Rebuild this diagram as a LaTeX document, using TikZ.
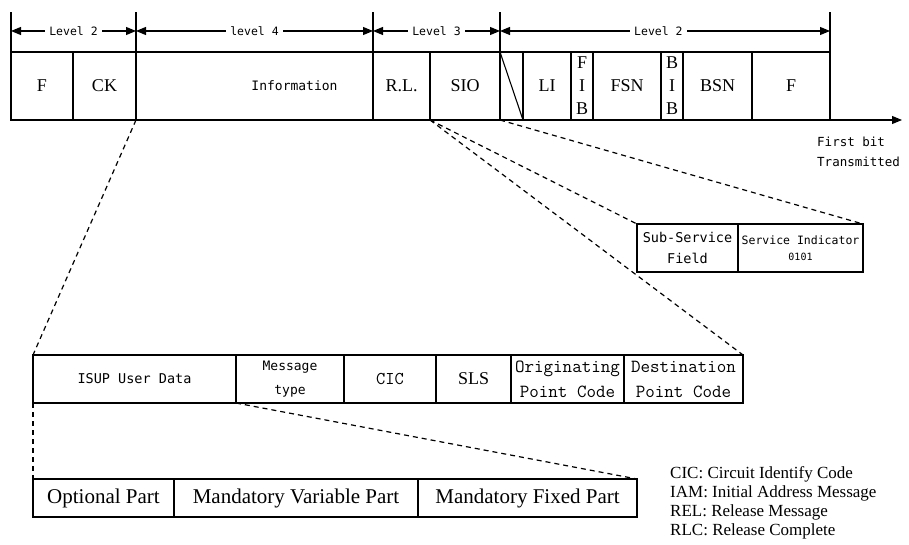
\documentclass[tikz,border=0pt]{standalone}
\usepackage{fontspec}
\setmainfont{Liberation Serif}
\newfontfamily\dvm{DejaVu Sans Mono}
\usetikzlibrary{arrows.meta}
\begin{document}
\begin{tikzpicture}[x=1pt,y=-1pt,
  cell/.style={draw, line width=1.3pt, inner sep=0pt, outer sep=0pt, anchor=north west, align=center},
  topcell/.style={cell, minimum height=68pt, font=\fontsize{18}{23}\selectfont},
  midcell/.style={cell, minimum height=48pt},
  lowcell/.style={cell, minimum height=38pt, font=\fontsize{21}{24}\selectfont},
  dashline/.style={line width=1.2pt, dash pattern=on 5pt off 4pt},
  lvl/.style={fill=white, inner sep=4pt, font=\dvm\fontsize{11.5}{13}\selectfont},
  lvlarrow/.style={{Triangle[length=10pt,width=8pt]}-{Triangle[length=10pt,width=8pt]}, line width=1.1pt},
  tickline/.style={line width=1.1pt}
]
\useasboundingbox (0,0) rectangle (909,545);

% top frame
\node[topcell, minimum width=62pt] (f1) at (11,52) {F};
\node[topcell, minimum width=63pt] (ck) at (73,52) {CK};
\node[topcell, minimum width=237pt, font=\dvm\fontsize{13}{15}\selectfont] (info) at (136,52) {\hspace*{80pt}Information};
\node[topcell, minimum width=57pt] (rl) at (373,52) {R.L.};
\node[topcell, minimum width=70pt] (sio) at (430,52) {SIO};
\node[topcell, minimum width=23pt] (sl) at (500,52) {};
\node[topcell, minimum width=48pt] (li) at (523,52) {LI};
\node[topcell, minimum width=22pt] (fib) at (571,52) {F\\I\\B};
\node[topcell, minimum width=68pt] (fsn) at (593,52) {FSN};
\node[topcell, minimum width=22pt] (bib) at (661,52) {B\\I\\B};
\node[topcell, minimum width=69pt] (bsn) at (683,52) {BSN};
\node[topcell, minimum width=78pt] (f2) at (752,52) {F};
\draw[line width=1.1pt] (sl.north west) -- (sl.south east);

% level ticks
\draw[tickline] (f1.north west) -- ([yshift=40pt]f1.north west);
\draw[tickline] (info.north west) -- ([yshift=40pt]info.north west);
\draw[tickline] (rl.north west) -- ([yshift=40pt]rl.north west);
\draw[tickline] (sl.north west) -- ([yshift=40pt]sl.north west);
\draw[tickline] (f2.north east) -- ([yshift=40pt]f2.north east);

% level arrows
\draw[lvlarrow] ([yshift=21pt]f1.north west) -- ([yshift=21pt]info.north west) node[midway, lvl] (lv2a) {Level 2};
\draw[lvlarrow] ([yshift=21pt]info.north west) -- ([yshift=21pt]rl.north west) node[midway, lvl] (lv4) {level 4};
\draw[lvlarrow] ([yshift=21pt]rl.north west) -- ([yshift=21pt]sl.north west) node[midway, lvl] (lv3) {Level 3};
\draw[lvlarrow] ([yshift=21pt]sl.north west) -- ([yshift=21pt]f2.north east) node[pos=0.48, lvl] (lv2b) {Level 2};

% first bit arrow
\coordinate (fbend) at ([xshift=72pt]f2.south east);
\draw[-{Triangle[length=10pt,width=8pt]}, line width=1.1pt] (f2.south east) -- (fbend);
\node[anchor=west, align=left, inner sep=0pt, font=\dvm\fontsize{12.5}{20}\selectfont] (fb) at (817,152) {First bit\\Transmitted};

% SIO expansion
\node[midcell, minimum width=101pt, font=\dvm\fontsize{13.5}{21}\selectfont] (ssf) at (637,224) {Sub-Service\\Field};
\node[midcell, minimum width=125pt, font=\dvm\fontsize{11.5}{16}\selectfont] (si) at (738,224) {Service Indicator\\{\fontsize{10}{12}\selectfont 0101}};

% ISUP row
\node[midcell, minimum width=203pt, font=\dvm\fontsize{13.5}{16}\selectfont] (isup) at (33,355) {ISUP User Data};
\node[midcell, minimum width=108pt, font=\dvm\fontsize{13}{24}\selectfont] (msg) at (236,355) {Message\\type};
\node[midcell, minimum width=92pt, font=\ttfamily\fontsize{18}{20}\selectfont] (cic) at (344,355) {CIC};
\node[midcell, minimum width=75pt, font=\fontsize{18}{20}\selectfont] (sls) at (436,355) {SLS};
\node[midcell, minimum width=113pt, font=\ttfamily\fontsize{18.5}{25}\selectfont] (org) at (511,355) {Originating\\Point Code};
\node[midcell, minimum width=119pt, font=\ttfamily\fontsize{18.5}{25}\selectfont] (dst) at (624,355) {Destination\\Point Code};

% bottom row
\node[lowcell, minimum width=141pt] (opt) at (33,479) {Optional Part};
\node[lowcell, minimum width=244pt] (mvp) at (174,479) {Mandatory Variable Part};
\node[lowcell, minimum width=219pt] (mfp) at (418,479) {Mandatory Fixed Part};

% dashed connectors
\draw[dashline] (sio.south west) -- (ssf.north west);
\draw[dashline] (sio.south west) -- (dst.north east);
\draw[dashline] (sio.south east) -- (si.north east);
\draw[dashline] (info.south west) -- (isup.north west);
\draw[dashline] (isup.south west) -- (opt.north west);
\draw[dashline] (isup.south east) -- (mfp.north east);

% legend
\node[anchor=north west, align=left, inner sep=0pt, font=\fontsize{17}{19}\selectfont] (legend) at (670,466)
  {CIC: Circuit Identify Code\\IAM: Initial Address Message\\REL: Release Message\\RLC: Release Complete};
\end{tikzpicture}
\end{document}
